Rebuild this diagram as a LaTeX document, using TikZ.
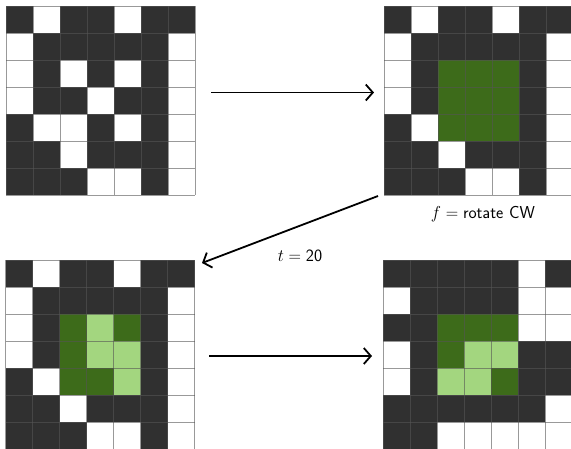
\documentclass[tikz,border=0pt]{standalone}
\usetikzlibrary{arrows.meta}
\definecolor{cD}{HTML}{303030}
\definecolor{cW}{HTML}{FFFFFF}
\definecolor{cG}{HTML}{3D6B1A}
\definecolor{cL}{HTML}{A3D67F}
\definecolor{gridgray}{HTML}{555555}
\newcommand\drawgrid[3]{%
  \foreach \row [count=\r from 0] in {#3} {
    \foreach \c [count=\k from 0] in \row {
      \fill[c\c] (#1+\k*27, #2+\r*27) rectangle ++(27,27);
    }
  }
  \foreach \i in {0,...,7} {
    \draw[cell] (#1+\i*27, #2) -- (#1+\i*27, #2+189);
    \draw[cell] (#1, #2+\i*27) -- (#1+189, #2+\i*27);
  }
}
\begin{document}
\begin{tikzpicture}[x=1pt, y=-1pt,
  cell/.style={draw=gridgray, draw opacity=0.6, line width=0.9pt},
  flow/.style={line width=1.8pt, -{Straight Barb[length=7pt, width=16pt, line width=1.8pt]}},
  lbl/.style={font=\fontsize{18.5}{22}\selectfont\sffamily, inner sep=0pt}]
\useasboundingbox (0,0) rectangle (571,448);
\clip (0,0) rectangle (571,448);
% grid 1
\drawgrid{6}{6}{{D,W,D,D,W,D,D},{W,D,D,D,D,D,W},{W,D,W,D,W,D,W},{W,D,D,W,D,D,W},{D,W,W,D,W,D,W},{D,D,W,D,D,D,W},{D,D,D,W,W,D,W}}
% grid 2
\drawgrid{384}{6}{{D,W,D,D,W,D,D},{W,D,D,D,D,D,W},{W,D,G,G,G,D,W},{W,D,G,G,G,D,W},{D,W,G,G,G,D,W},{D,D,W,D,D,D,W},{D,D,D,W,W,D,W}}
% grid 3
\drawgrid{5.5}{260}{{D,W,D,D,W,D,D},{W,D,D,D,D,D,W},{W,D,G,L,G,D,W},{W,D,G,L,L,D,W},{D,W,G,G,L,D,W},{D,D,W,D,D,D,W},{D,D,D,W,W,D,W}}
% grid 4
\drawgrid{383}{260}{{D,D,D,D,D,W,D},{W,D,D,D,D,W,W},{D,D,G,G,G,W,W},{W,D,G,L,L,D,D},{W,D,L,L,G,D,D},{D,D,D,D,D,D,W},{D,D,W,W,W,W,W}}
% arrows
\coordinate (a1s) at (211,92.5);
\coordinate (a1e) at (374,92.5);
\coordinate (a2s) at (378,196);
\coordinate (a2e) at (202,263);
\coordinate (a3s) at (209,356);
\coordinate (a3e) at (372,356);
\draw[flow] (a1s) -- (a1e);
\draw[flow] (a2s) -- (a2e);
\draw[flow] (a3s) -- (a3e);
\node[lbl] (flbl) at (483,214) {$f = \mathsf{rotate\ CW}$};
\node[lbl] (tlbl) at (300,256) {$t = \mathsf{20}$};
\end{tikzpicture}
\end{document}
